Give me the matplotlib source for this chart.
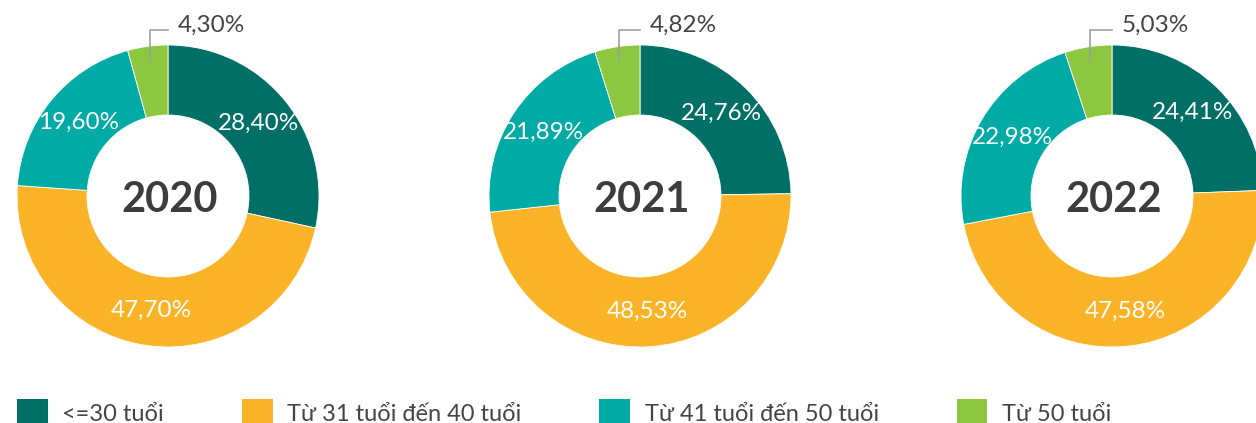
import matplotlib
matplotlib.use("Agg")
import matplotlib.pyplot as plt
from matplotlib.patches import Patch
import numpy as np

years = ["2020", "2021", "2022"]
groups = ["<=30 tuổi", "Từ 31 tuổi đến 40 tuổi", "Từ 41 tuổi đến 50 tuổi", "Từ 50 tuổi"]
share_2020 = [28.40, 47.70, 19.60, 4.30]
share_2021 = [24.76, 48.53, 21.89, 4.82]
share_2022 = [24.41, 47.58, 22.98, 5.03]

colors = ["#006f66", "#fbb427", "#00aaa5", "#8dc63f"]
W, H = 1256, 423
centers_x = [168, 640, 1112]
center_y = H - 196
R, ring = 151, 70

plt.rcParams["font.family"] = ["Lato", "DejaVu Sans"]

fig = plt.figure(figsize=(W / 100, H / 100), dpi=100)
ax = fig.add_axes([0, 0, 1, 1])


def fmt(v):
    return f"{v:.2f}".replace(".", ",") + "%"


for year, shares, cx in zip(years, [share_2020, share_2021, share_2022], centers_x):
    vals = np.array(shares)
    ax.pie(vals, center=(cx, center_y), radius=R, startangle=90, counterclock=False,
           colors=colors, wedgeprops=dict(width=ring, edgecolor="white", linewidth=0.6))
    mids = np.radians(360 * (np.cumsum(vals) - vals / 2) / vals.sum())
    r_lab = R - ring / 2
    for v, a in zip(vals[:-1], mids[:-1]):
        ax.text(cx + r_lab * np.sin(a), center_y + r_lab * np.cos(a), fmt(v),
                color="white", fontsize=17.5, ha="center", va="center")
    # small slice: label outside with leader line
    a = mids[-1]
    x0 = cx + 137 * np.sin(a)
    y0 = center_y + 137 * np.cos(a)
    ly = H - 30
    ax.plot([x0, x0, cx], [y0, ly, ly], color="#a0a0a0", lw=1.2)
    ax.text(cx + 10, H - 25, fmt(vals[-1]), color="#444444", fontsize=17.5,
            ha="left", va="center")
    ax.text(cx + 2, center_y - 4, year, color="#3c3c3c", fontsize=30,
            fontweight="bold", ha="center", va="center")

ax.set_xlim(0, W)
ax.set_ylim(0, H)
ax.set_aspect("equal")
ax.axis("off")

handles = [Patch(facecolor=c, edgecolor="none") for c in colors]
fig.legend(handles, groups, loc="lower left", bbox_to_anchor=(17 / W, -3 / H),
           ncol=4, frameon=False, fontsize=17, labelcolor="#444444",
           handlelength=1.3, handleheight=1.35, handletextpad=0.62,
           columnspacing=3.3, borderpad=0, borderaxespad=0)

fig.savefig("out.png", dpi=100)
